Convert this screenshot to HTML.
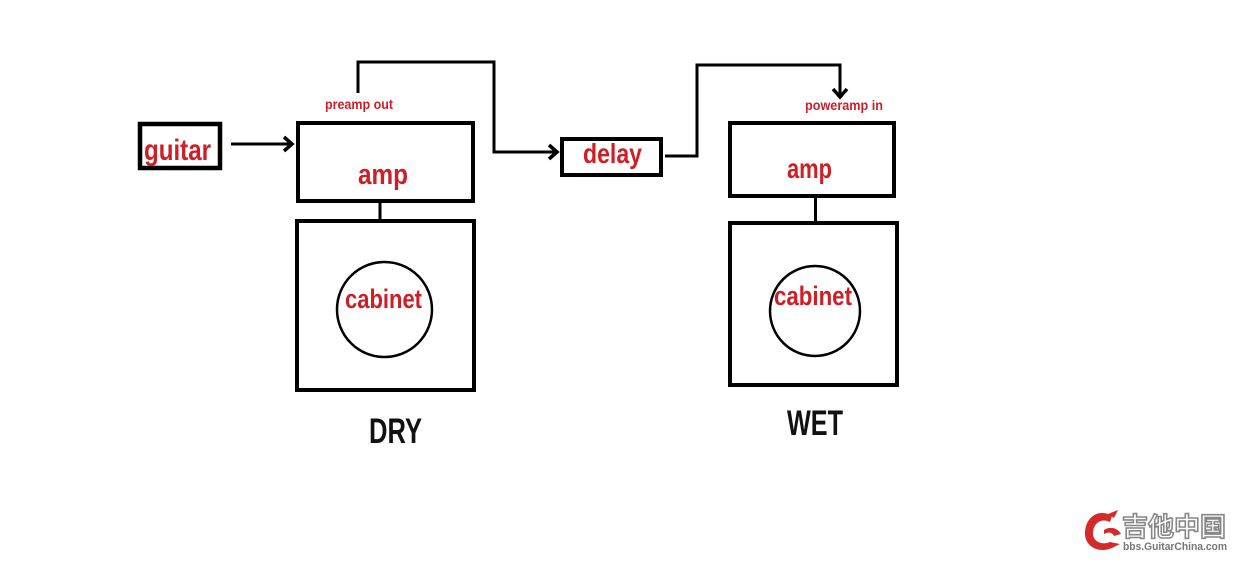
<!DOCTYPE html>
<html><head><meta charset="utf-8"><style>
html,body{margin:0;padding:0;background:#fff;}
svg{display:block;}
</style></head><body>
<svg width="1235" height="562" viewBox="0 0 1235 562" xmlns="http://www.w3.org/2000/svg">
<rect width="1235" height="562" fill="#fff"/>
<g fill="none" stroke="#000" stroke-width="4">
  <rect x="140" y="124" width="80" height="44" stroke-width="4.5"/>
  <rect x="298" y="123" width="175" height="78"/>
  <rect x="562" y="139" width="99" height="36"/>
  <rect x="730" y="123" width="164" height="73"/>
  <rect x="297" y="221" width="177" height="169"/>
  <rect x="730" y="223" width="167" height="162"/>
</g>
<g fill="none" stroke="#000" stroke-width="3">
  <line x1="380" y1="201" x2="380" y2="221"/>
  <line x1="815.5" y1="196" x2="815.5" y2="223"/>
  <line x1="231" y1="144" x2="292" y2="144"/>
  <polyline points="284,137 292,144 284,151" stroke-width="3.5"/>
  <polyline points="358,93 358,62 494,62 494,152 556,152"/>
  <polyline points="549,145 557,152 549,159" stroke-width="3.5"/>
  <polyline points="665,156 697,156 697,65 840,65 840,96"/>
  <polyline points="833,89 840,97 847,89" stroke-width="3.5"/>
</g>
<g fill="none" stroke="#000" stroke-width="2.5">
  <circle cx="384.5" cy="309.5" r="47.5"/>
  <circle cx="815" cy="311" r="45"/>
</g>
<g font-family="Liberation Sans, sans-serif" font-weight="bold" fill="#cc1f26">
  <text x="144" y="160" font-size="30" textLength="67" lengthAdjust="spacingAndGlyphs">guitar</text>
  <text x="358" y="184" font-size="29" textLength="50" lengthAdjust="spacingAndGlyphs">amp</text>
  <text x="583" y="163" font-size="28" textLength="59" lengthAdjust="spacingAndGlyphs">delay</text>
  <text x="787" y="178" font-size="28" textLength="45" lengthAdjust="spacingAndGlyphs">amp</text>
  <text x="345" y="308" font-size="27" textLength="77" lengthAdjust="spacingAndGlyphs">cabinet</text>
  <text x="774" y="305" font-size="27" textLength="78" lengthAdjust="spacingAndGlyphs">cabinet</text>
  <text x="325" y="109" font-size="14" textLength="68" lengthAdjust="spacingAndGlyphs">preamp out</text>
  <text x="805" y="110" font-size="14" textLength="78" lengthAdjust="spacingAndGlyphs">poweramp in</text>
</g>
<g font-family="Liberation Sans, sans-serif" font-weight="bold" fill="#111">
  <text x="369" y="443" font-size="35" textLength="53" lengthAdjust="spacingAndGlyphs">DRY</text>
  <text x="787" y="435" font-size="35" textLength="56" lengthAdjust="spacingAndGlyphs">WET</text>
</g>
<!-- logo -->
<g>
  <path d="M1112,516 C1100,508 1086,516 1085,532 C1084,546 1098,554 1112,548 L1120,544 L1110,542 C1100,546 1092,540 1093,532 C1094,522 1102,518 1110,522 Z" fill="#d42a2a"/>
  <path d="M1104,530 C1110,526 1118,528 1121,534 L1114,536 C1112,532 1108,532 1104,534 Z" fill="#d42a2a"/>
  <path d="M1108,514 L1118,510 L1114,518 Z" fill="#d42a2a"/>
  <text x="1122" y="536" font-family="'Noto Sans CJK SC', 'WenQuanYi Zen Hei', sans-serif" font-weight="bold" font-size="26" fill="#fff" stroke="#888" stroke-width="1.6" textLength="104" lengthAdjust="spacingAndGlyphs">吉他中国</text>
  <text x="1123" y="550" font-family="Liberation Sans, sans-serif" font-weight="bold" font-size="11" fill="#777" textLength="104" lengthAdjust="spacingAndGlyphs">bbs.GuitarChina.com</text>
</g>
</svg>
</body></html>
